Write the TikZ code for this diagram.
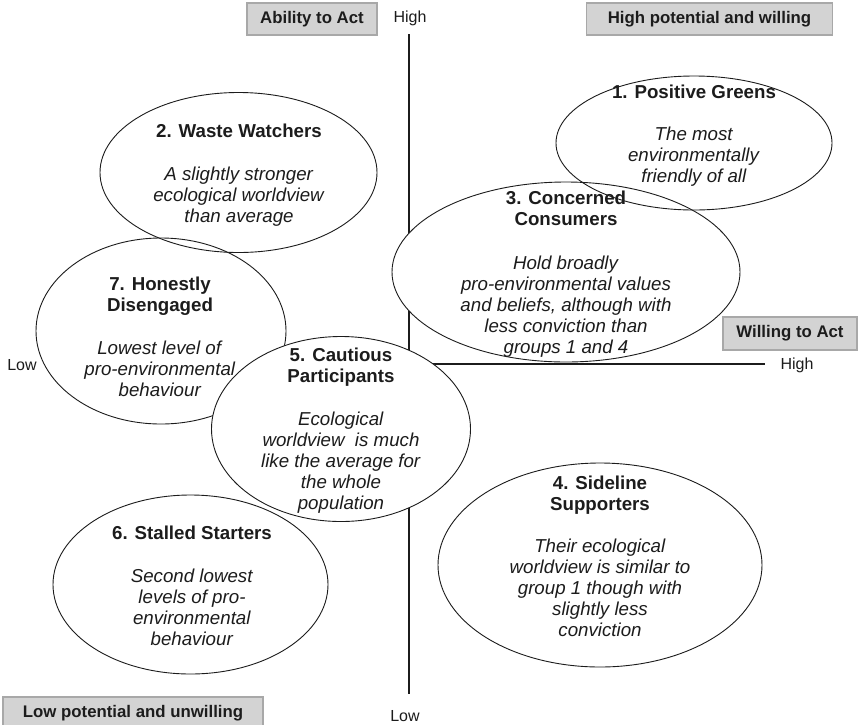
\documentclass[tikz,border=0pt]{standalone}
\usepackage{fontspec}
\setmainfont{Liberation Sans}
\usetikzlibrary{shapes.geometric}
\definecolor{boxgray}{HTML}{D3D3D3}
\definecolor{boxedge}{HTML}{A8A8A8}
\definecolor{ink}{HTML}{1C1C1C}
\begin{document}
\begin{tikzpicture}[x=1pt,y=-1pt,
  axisline/.style={draw=ink, line width=1.3pt},
  segment/.style={ellipse, draw=ink, line width=0.9pt, inner sep=0pt},
  segtext/.style={anchor=north, align=center, text=ink, inner sep=0pt,
    font=\fontsize{18.7}{21}\selectfont},
  tag/.style={fill=boxgray, draw=boxedge, line width=1.2pt, text=ink,
    font=\fontsize{16.8}{18}\selectfont\bfseries, inner sep=0pt},
  axislabel/.style={text=ink, font=\fontsize{16}{18}\selectfont, inner sep=0pt}
]
\useasboundingbox[fill=white] (0,0) rectangle (859,724);

% quadrant axes
\coordinate (vtop) at (409,34);
\coordinate (vbot) at (409,694);
\coordinate (hleft) at (409,364);
\coordinate (hright) at (765,364);
\draw[axisline] (vtop) -- (vbot);
\draw[axisline] (hleft) -- (hright);

% white backgrounds of the segments, so the axes disappear behind them
\foreach \cx/\cy/\rx/\ry in {694/143/138/67, 238.5/172.5/138.5/80, 566/272/174/90,
    600/565/162/102, 341/429/129.5/92.5, 190.5/584.5/137.5/89.5, 161/331/125/93}
  \fill[white] (\cx,\cy) ellipse [x radius=\rx, y radius=\ry];

% segment outlines
\foreach \n/\cx/\cy/\rx/\ry in {1/694/143/138/67, 2/238.5/172.5/138.5/80, 3/566/272/174/90,
    4/600/565/162/102, 6/190.5/584.5/137.5/89.5, 7/161/331/125/93}
  \node[segment, minimum width=2*\rx, minimum height=2*\ry] (e\n) at (\cx,\cy) {};
\node[segment, fill=white, minimum width=259, minimum height=185] (e5) at (341,429) {};

% segment texts
\node[segtext] (t1) at (694,85) {\textbf{1. Positive Greens}\\[21pt]
  \textit{The most}\\ \textit{environmentally}\\ \textit{friendly of all}};
\node[segtext] (t2) at (239,124) {\textbf{2. Waste Watchers}\\[22pt]
  \textit{A slightly stronger}\\ \textit{ecological worldview}\\ \textit{than average}};
\node[segtext] (t3) at (566,191) {\textbf{3. Concerned}\\ \textbf{Consumers}\\[23pt]
  \textit{Hold broadly}\\ \textit{pro-environmental values}\\ \textit{and beliefs, although with}\\
  \textit{less conviction than}\\ \textit{groups 1 and 4}};
\node[segtext] (t4) at (600,476) {\textbf{4. Sideline}\\ \textbf{Supporters}\\[21pt]
  \textit{Their ecological}\\ \textit{worldview is similar to}\\ \textit{group 1 though with}\\
  \textit{slightly less}\\ \textit{conviction}};
\node[segtext] (t5) at (341,348) {\textbf{5. Cautious}\\ \textbf{Participants}\\[22pt]
  \textit{Ecological}\\ \textit{worldview\ \ is much}\\ \textit{like the average\ for}\\
  \textit{the whole}\\ \textit{population}};
\node[segtext] (t6) at (192,526) {\textbf{6. Stalled Starters}\\[22pt]
  \textit{Second lowest}\\ \textit{levels of pro-}\\ \textit{environmental}\\ \textit{behaviour}};
\node[segtext] (t7) at (160,277) {\textbf{7. Honestly}\\ \textbf{Disengaged}\\[22pt]
  \textit{Lowest level of}\\ \textit{pro-environmental}\\ \textit{behaviour}};

% quadrant tags
\node[tag, minimum width=130, minimum height=32] (ability) at (312,19) {Ability to Act};
\node[tag, minimum width=246, minimum height=32] (highpot) at (709.5,19) {High potential and willing};
\node[tag, minimum width=134, minimum height=33] (willing) at (790,333.5) {Willing to Act};
\node[tag, minimum width=260, minimum height=32] (lowpot) at (133,713) {Low potential and unwilling};

% axis ends
\node[axislabel] (yhigh) at (410,18) {High};
\node[axislabel] (ylow) at (405,716) {Low};
\node[axislabel] (xlow) at (22,365) {Low};
\node[axislabel] (xhigh) at (797,365) {High};
\end{tikzpicture}
\end{document}
